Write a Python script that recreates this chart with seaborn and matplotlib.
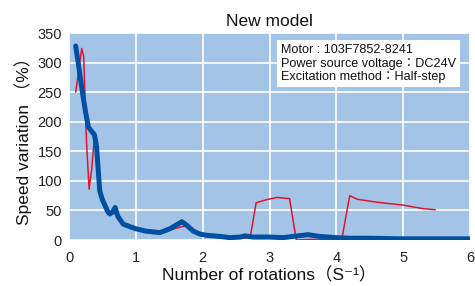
import matplotlib
matplotlib.use("Agg")
import matplotlib.pyplot as plt
import seaborn as sns

# data
old_x = [0.10, 0.15, 0.19, 0.22, 0.26, 0.30, 0.34, 0.38, 0.41, 0.46, 0.54, 0.61, 0.69,
         0.73, 0.81, 1.00, 1.36, 1.51, 1.74, 1.86, 2.06, 2.30, 2.60, 2.71, 2.80, 2.95,
         3.11, 3.30, 3.40, 3.60, 4.08, 4.20, 4.31, 4.60, 5.00, 5.30, 5.48]
old_y = [250, 290, 324, 310, 170, 86, 120, 175, 160, 83, 58, 44, 52,
         40, 24, 18, 12, 17, 24, 15, 8, 4, 3, 4, 63, 68,
         72, 70, 0, 1, 0, 75, 69, 64, 59, 53, 51]

new_x = [0.10, 0.15, 0.20, 0.25, 0.29, 0.33, 0.38, 0.41, 0.46, 0.50, 0.54, 0.58, 0.61,
         0.65, 0.69, 0.73, 0.81, 0.90, 1.00, 1.15, 1.36, 1.51, 1.60, 1.69, 1.76, 1.86,
         1.96, 2.06, 2.26, 2.41, 2.56, 2.63, 2.75, 3.00, 3.20, 3.35, 3.58, 3.75, 4.00,
         4.20, 4.50, 5.00, 5.50, 6.00]
new_y = [328, 290, 250, 215, 191, 185, 178, 160, 83, 68, 58, 48, 44,
         47, 55, 40, 27, 23, 19, 15, 12.5, 19, 25, 31, 25, 15,
         10, 8, 6, 4, 5, 7, 5, 5, 4, 6, 9, 6, 4,
         3, 3, 2, 2, 2]

x_ticks = [0, 1, 2, 3, 4, 5, 6]
y_ticks = [0, 50, 100, 150, 200, 250, 300, 350]

note_lines = ["Motor : 103F7852-8241",
              "Power source voltage：DC24V",
              "Excitation method：Half-step"]

sns.set_theme(style="whitegrid", rc={"axes.facecolor": "#a4c4e7", "grid.color": "white",
                                      "grid.linewidth": 1.2})
plt.rcParams['font.family'] = ['Liberation Sans', 'Noto Sans CJK JP', 'DejaVu Sans']
text_fam = ['Liberation Sans', 'Noto Sans CJK JP', 'DejaVu Sans']
tick_fam = ['Liberation Sans Narrow', 'Liberation Sans']

fig = plt.figure(figsize=(4.75, 2.86), dpi=100)
ax = fig.add_axes([0.1453, 0.1608, 0.8442, 0.7238])

sns.lineplot(x=old_x, y=old_y, ax=ax, color="#e3132e", linewidth=1.1)
sns.lineplot(x=new_x, y=new_y, ax=ax, color="#0050a2", linewidth=3.6)

ax.set_xlim(0, 6)
ax.set_ylim(0, 350)
ax.set_xticks(x_ticks)
ax.set_yticks(y_ticks)
for s in ax.spines.values():
    s.set_visible(False)
ax.tick_params(axis="both", length=0, labelsize=10.5, colors="#222222")
ax.tick_params(axis="y", pad=5)
ax.tick_params(axis="x", pad=8)
for lab in ax.get_xticklabels() + ax.get_yticklabels():
    lab.set_family(tick_fam)

ax.set_title("New model", fontsize=12.5, family=text_fam, pad=5, color="#111111")
ax.set_ylabel("Speed variation （%）", fontsize=12.5, family=text_fam, labelpad=4, color="#111111")
ax.set_xlabel("Number of rotations（S⁻¹）", fontsize=12.5, family=text_fam, labelpad=1,
              color="#111111")

ax.text(0.529, 0.945, "\n".join(note_lines), transform=ax.transAxes, fontsize=9.1,
        family=text_fam, va="top", ha="left", linespacing=1.15, color="#111111",
        bbox=dict(boxstyle="square,pad=0.32", facecolor="white", edgecolor="none"))

fig.savefig("out.png", dpi=100)
